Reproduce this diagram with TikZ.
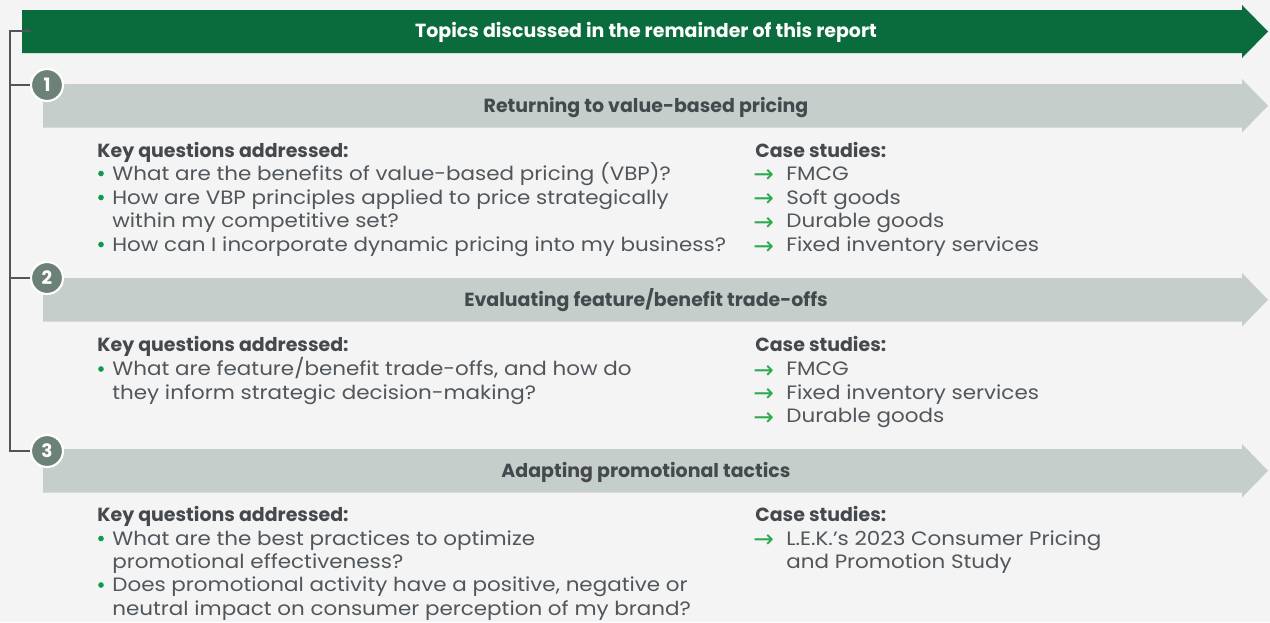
\documentclass[tikz,border=0pt]{standalone}
\usepackage{fontspec}
\setmainfont{Poppins}
\newfontfamily\bodyfont{Poppins}[FakeStretch=1.11]
\newfontfamily\symfont{DejaVu Sans}
\usepackage{xcolor}
\usetikzlibrary{positioning}
\definecolor{pagegray}{HTML}{F3F4F3}
\definecolor{topgreen}{HTML}{0A6B3C}
\definecolor{barfill}{HTML}{C5CECB}
\definecolor{numgray}{HTML}{6D8276}
\definecolor{bodygray}{HTML}{50565B}
\definecolor{headgray}{HTML}{45494D}
\definecolor{dotgreen}{HTML}{0E9A47}
\definecolor{arrowgreen}{HTML}{2DAA4F}
\definecolor{bracketgray}{HTML}{4F5559}

\begin{document}
\begin{tikzpicture}[x=0.02cm,y=-0.02cm,
    font=\bodyfont\fontsize{11}{13}\selectfont,
    hd/.style={font=\rmfamily\fontsize{10.8}{13}\selectfont\bfseries,text=headgray,anchor=base west,inner sep=0pt},
    txt/.style={text=bodygray,anchor=base west,inner sep=0pt},
    dot/.style={circle,fill=dotgreen,inner sep=0pt,minimum size=3.2pt},
    arr/.style={text=arrowgreen,anchor=base west,inner sep=0pt,yshift=-1.6pt,font=\symfont\fontsize{14}{14}\selectfont},
    bartitle/.style={anchor=base,inner sep=0pt,font=\rmfamily\fontsize{10.8}{13}\selectfont\bfseries},
    num/.style={circle,fill=numgray,draw=white,line width=1.2pt,minimum size=0.64cm,inner sep=0pt,text=white,font=\rmfamily\fontsize{10.5}{12}\selectfont\bfseries},
    bracket/.style={draw=bracketgray,line width=0.8pt}]
  \fill[pagegray] (0,0) rectangle (1270,622);
  \useasboundingbox (0,0) rectangle (1270,622);

  % banner and the three section bars
  \fill[topgreen] (22,10) -- (1242,10) -- (1242,5) -- (1268,31.5) -- (1242,58) -- (1242,53) -- (22,53) -- cycle;
  \foreach \y in {84,278,449}
    \fill[barfill] (43,\y) -- (1242,\y) -- (1242,\y-5) -- (1268,\y+21.75) -- (1242,\y+48.5) -- (1242,\y+43.5) -- (43,\y+43.5) -- cycle;
  \node[bartitle,text=white] (t0) at (646,37) {Topics discussed in the remainder of this report};
  \node[bartitle,text=headgray] (t1) at (646,112) {Returning to value-based pricing};
  \node[bartitle,text=headgray] (t2) at (646,306) {Evaluating feature/benefit trade-offs};
  \node[bartitle,text=headgray] (t3) at (646,477) {Adapting promotional tactics};

  % numbered markers and the bracket
  \node[num] (c1) at (47,85) {1};
  \node[num] (c2) at (47,278) {2};
  \node[num] (c3) at (47,451) {3};
  \coordinate (hook) at (31,31);
  \coordinate (spine) at (10,31);
  \draw[bracket] (hook) -- (spine) |- (c3);
  \draw[bracket] (spine |- c1) -- (c1);
  \draw[bracket] (spine |- c2) -- (c2);

  % section 1
  \node[hd] (k1) at (97,157) {Key questions addressed:};
  \node[dot] (d1a) at (101,173.5) {};
  \node[txt] (q1a) at (112,180) {What are the benefits of value-based pricing (VBP)?};
  \node[dot] (d1b) at (101,197.5) {};
  \node[txt] (q1b) at (112,204) {How are VBP principles applied to price strategically};
  \node[txt] (q1c) at (112,227) {within my competitive set?};
  \node[dot] (d1c) at (101,244.5) {};
  \node[txt] (q1d) at (112,251) {How can I incorporate dynamic pricing into my business?};
  \node[hd] (s1) at (755,157) {Case studies:};
  \node[arr] (a1a) at (753,180) {→};
  \node[txt] (e1a) at (786,180) {FMCG};
  \node[arr] (a1b) at (753,204) {→};
  \node[txt] (e1b) at (786,204) {Soft goods};
  \node[arr] (a1c) at (753,227.5) {→};
  \node[txt] (e1c) at (786,227.5) {Durable goods};
  \node[arr] (a1d) at (753,251.5) {→};
  \node[txt] (e1d) at (786,251.5) {Fixed inventory services};

  % section 2
  \node[hd] (k2) at (97,351) {Key questions addressed:};
  \node[dot] (d2a) at (101,369) {};
  \node[txt] (q2a) at (112,375.5) {What are feature/benefit trade-offs, and how do};
  \node[txt] (q2b) at (112,399) {they inform strategic decision-making?};
  \node[hd] (s2) at (755,351) {Case studies:};
  \node[arr] (a2a) at (753,375.5) {→};
  \node[txt] (e2a) at (786,375.5) {FMCG};
  \node[arr] (a2b) at (753,399) {→};
  \node[txt] (e2b) at (786,399) {Fixed inventory services};
  \node[arr] (a2c) at (753,422.5) {→};
  \node[txt] (e2c) at (786,422.5) {Durable goods};

  % section 3
  \node[hd] (k3) at (97,521) {Key questions addressed:};
  \node[dot] (d3a) at (101,538.5) {};
  \node[txt] (q3a) at (112,545) {What are the best practices to optimize};
  \node[txt] (q3b) at (112,568) {promotional effectiveness?};
  \node[dot] (d3b) at (101,585) {};
  \node[txt] (q3c) at (112,591.5) {Does promotional activity have a positive, negative or};
  \node[txt] (q3d) at (112,615) {neutral impact on consumer perception of my brand?};
  \node[hd] (s3) at (755,521) {Case studies:};
  \node[arr] (a3a) at (753,545) {→};
  \node[txt] (e3a) at (786,545) {L.E.K.’s 2023 Consumer Pricing};
  \node[txt] (e3b) at (786,568) {and Promotion Study};
\end{tikzpicture}
\end{document}
